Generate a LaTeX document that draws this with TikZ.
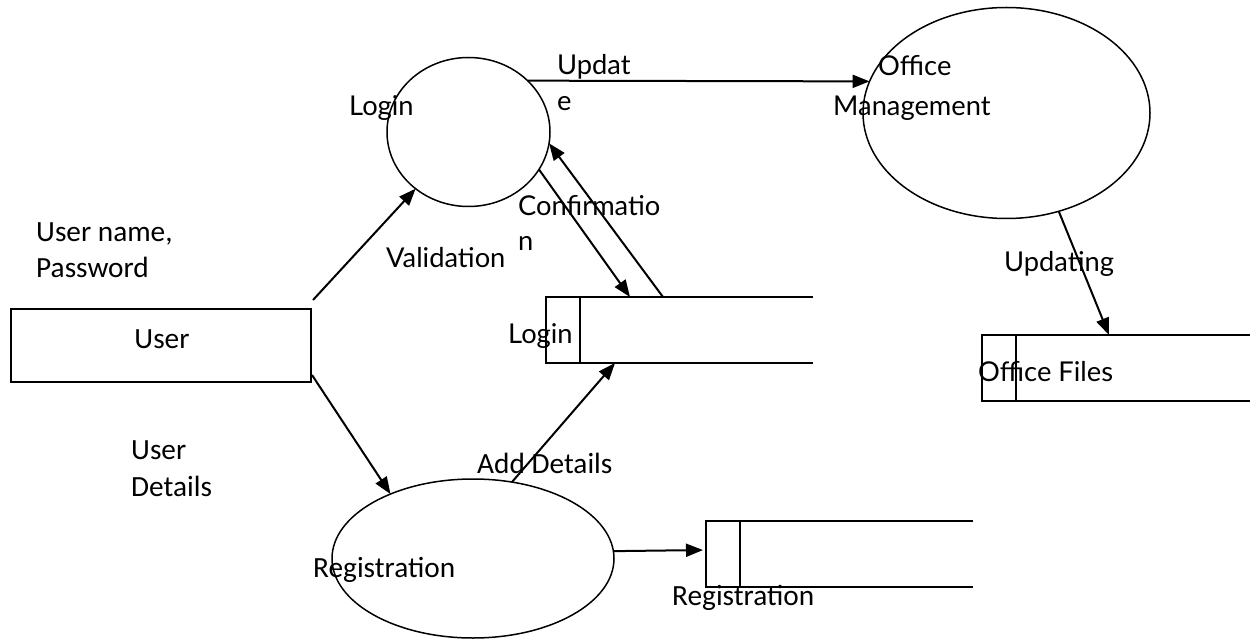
\documentclass[tikz,border=0pt]{standalone}
\usepackage{fontspec}
\setmainfont{Carlito}
\newfontfamily\latofont{Lato}
\usetikzlibrary{shapes.geometric,arrows.meta,calc}
\begin{document}
\begin{tikzpicture}[x=1pt,y=-1pt,
  shapeline/.style={draw=black,line width=1.5pt},
  proc/.style={shapeline,ellipse,inner sep=0pt,outer sep=0pt},
  userbox/.style={shapeline,rectangle,inner sep=0pt,outer sep=0pt},
  storebox/.style={rectangle,inner sep=0pt,outer sep=0pt},
  flow/.style={line width=2pt,-{Triangle[length=17pt,width=13pt]}},
  lab/.style={inner sep=0pt,anchor=base west,font=\fontsize{29.3}{35}\selectfont},
  llab/.style={inner sep=0pt,anchor=base west,font=\latofont\fontsize{27.3}{33}\selectfont}]
\useasboundingbox (0,0) rectangle (1253,639);

% entities and processes
\node[userbox,minimum width=300,minimum height=73] (user) at (161,345.5) {};
\node[proc,minimum width=163,minimum height=149] (login) at (468.5,132) {};
\node[proc,minimum width=287,minimum height=211] (office) at (1006.5,113) {};
\node[proc,minimum width=282,minimum height=159] (reg) at (473,558.5) {};

% data stores
\node[storebox,minimum width=267,minimum height=66,anchor=north west] (ls) at (546,297) {};
\node[storebox,minimum width=268,minimum height=66,anchor=north west] (of) at (982,335) {};
\node[storebox,minimum width=267,minimum height=66,anchor=north west] (rs) at (706,521) {};
\foreach \s in {ls,of,rs}{
  \draw[shapeline] (\s.north east) -- (\s.north west) -- (\s.south west) -- (\s.south east);
  \draw[shapeline] ($(\s.north west)+(34,0)$) -- ($(\s.south west)+(34,0)$);
}

% flows
\draw[flow] ($(user.north east)+(2,-9)$) -- (login.227);
\draw[flow] ($(user.south east)+(1,-7)$) -- (reg.142.8);
\draw[flow] (login.41) -- (office.167);
\draw[flow] (login.332) -- ($(ls.north west)+(84,0)$);
\draw[flow] ($(ls.north west)+(117,0)$) -- (login.352);
\draw[flow] (reg.63.6) -- ($(ls.south west)+(69,0)$);
\draw[flow] (office.298) -- ($(of.north west)+(127,0)$);
\draw[flow,shorten >=3pt] (reg.3.5) -- ($(rs.north west)+(0,29)$);

% labels
\node[lab,anchor=base] (tuser) at (162,348) {User};
\node[lab] (tun1) at (36,242) {User name,};
\node[lab] (tun2) at (36,277) {Password};
\node[lab] (tud1) at (131,459) {User};
\node[lab] (tud2) at (131,496) {Details};
\node[llab] (tlogin) at (349,116) {Login};
\node[llab] (tupd1) at (557,75) {Updat};
\node[llab] (tupd2) at (557,111) {e};
\node[llab] (tconf1) at (518,215) {Confirmatio};
\node[llab] (tconf2) at (518,251) {n};
\node[llab] (tval) at (386,267) {Validation};
\node[llab] (toff1) at (878,76) {Office};
\node[llab] (toff2) at (833,116) {Management};
\node[llab] (tupding) at (1004,271) {Updating};
\node[llab] (tofiles) at (978,381) {Office Files};
\node[llab] (tlstore) at (508,343) {Login};
\node[lab] (tadd) at (477,473) {Add Details};
\node[lab] (treg1) at (313,577) {Registration};
\node[lab] (treg2) at (672,605) {Registration};
\end{tikzpicture}
\end{document}
